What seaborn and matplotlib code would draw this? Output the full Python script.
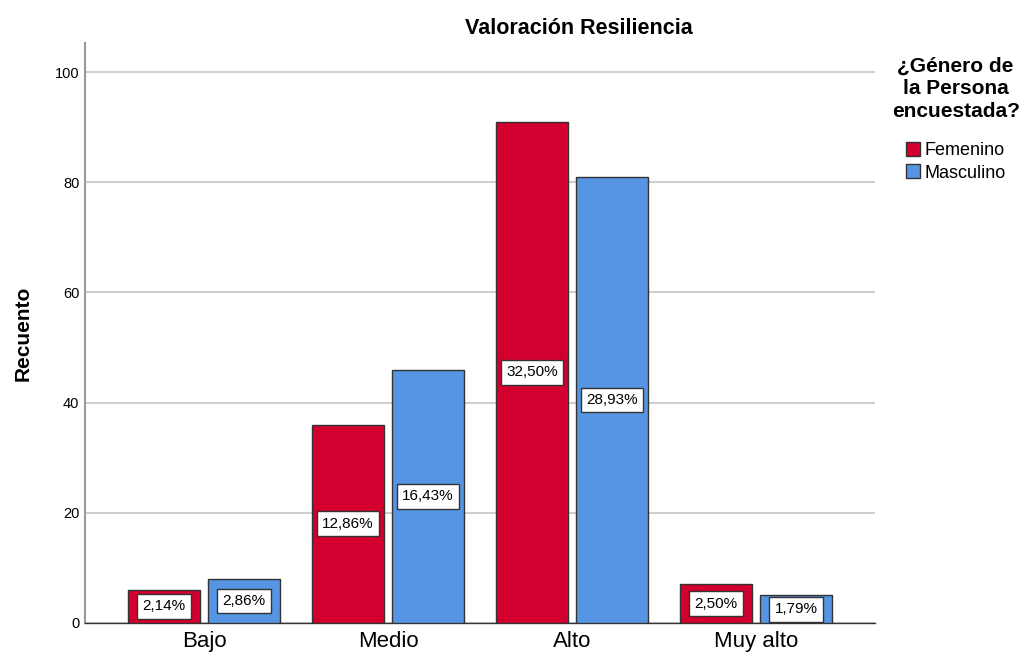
import matplotlib
matplotlib.use('Agg')
import matplotlib.pyplot as plt
import pandas as pd
import seaborn as sns

# Data
niveles = ['Bajo', 'Medio', 'Alto', 'Muy alto']
femenino = [6, 36, 91, 7]
masculino = [8, 46, 81, 5]
pct_femenino = ['2,14%', '12,86%', '32,50%', '2,50%']
pct_masculino = ['2,86%', '16,43%', '28,93%', '1,79%']
generos = ['Femenino', 'Masculino']
colores = ['#d3002f', '#5595e3']

df = pd.DataFrame({
    'Nivel': niveles * 2,
    'Genero': [generos[0]] * 4 + [generos[1]] * 4,
    'Recuento': femenino + masculino,
})

sns.set_style('white')
plt.rcParams['font.family'] = ['Liberation Sans', 'DejaVu Sans']
plt.rcParams['text.color'] = 'black'
plt.rcParams['xtick.color'] = 'black'
plt.rcParams['ytick.color'] = 'black'
plt.rcParams['axes.labelcolor'] = 'black'

fig = plt.figure(figsize=(10.26, 6.57), dpi=100)
ax = fig.add_axes([0.0828, 0.0518, 0.853 - 0.0828, 0.9346 - 0.0518])

sns.barplot(data=df, x='Nivel', y='Recuento', hue='Genero', order=niveles,
            hue_order=generos, palette=colores, width=0.87, gap=0.1,
            edgecolor='#333333', linewidth=1.0, saturation=1, ax=ax, zorder=3)

# percentage labels in white boxes at half height of each bar
for cont, labels in zip(ax.containers, [pct_femenino, pct_masculino]):
    for bar, lab in zip(cont, labels):
        x = bar.get_x() + bar.get_width() / 2
        y = bar.get_height() / 2
        ax.text(x, y, lab, ha='center', va='center', fontsize=11, zorder=5,
                bbox=dict(boxstyle='square,pad=0.35', fc='white', ec='#333333', lw=1))

ax.set_xlim(-0.647, 3.647)
ax.set_ylim(0, 105.3)
ax.set_yticks([0, 20, 40, 60, 80, 100])
ax.yaxis.grid(True, color='#cfcfcf', linewidth=1.5, zorder=0)
ax.set_axisbelow(True)
ax.tick_params(axis='y', length=0, labelsize=10.5, pad=4)
ax.tick_params(axis='x', length=0, labelsize=16, pad=6)
ax.set_xlabel('')
ax.set_ylabel('Recuento', fontsize=15, fontweight='bold', labelpad=16)

for s in ['top', 'right']:
    ax.spines[s].set_visible(False)
ax.spines['left'].set_color('#999999')
ax.spines['left'].set_linewidth(1.5)
ax.spines['bottom'].set_color('#333333')
ax.spines['bottom'].set_linewidth(1.0)

fig.text(0.564, 0.957, 'Valoración Resiliencia', ha='center', va='center',
         fontsize=15.5, fontweight='bold')

leg = ax.legend(title='¿Género de\nla Persona\nencuestada?', loc='upper left',
                bbox_to_anchor=(0.862, 0.925), bbox_transform=fig.transFigure,
                frameon=False, fontsize=13, title_fontsize=15,
                handlelength=0.8, handleheight=0.8, handletextpad=0.25,
                labelspacing=0.3, borderaxespad=0)
leg.get_title().set_fontweight('bold')
leg.get_title().set_multialignment('center')
leg.get_title().set_linespacing(1.25)
leg._legend_box.sep = 15

fig.savefig('out.png', dpi=100)
